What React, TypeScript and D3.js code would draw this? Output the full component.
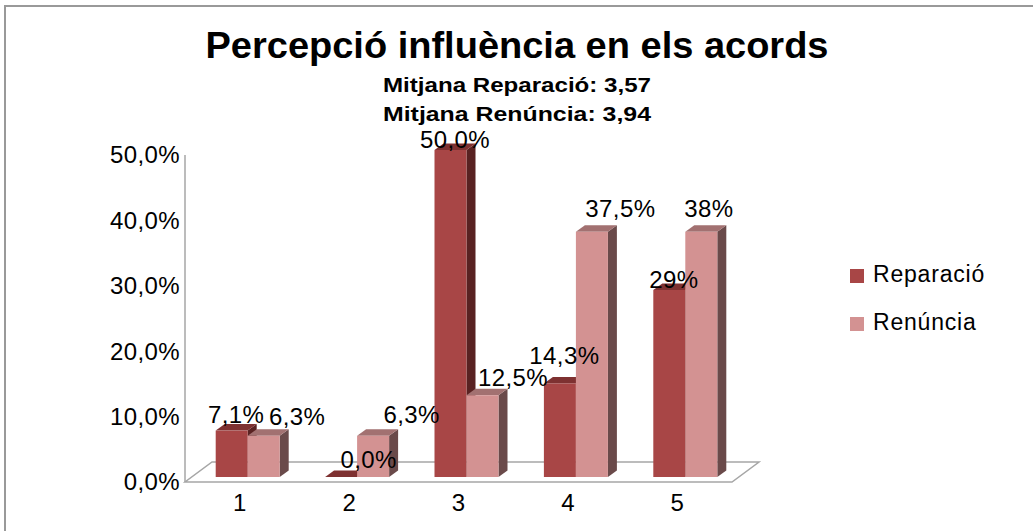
import React from 'react';
import * as d3 from 'd3';

const categories = ['1', '2', '3', '4', '5'];
const reparacio = [0.071, 0, 0.5, 0.143, 0.286];
const renuncia = [0.063, 0.063, 0.125, 0.375, 0.375];
const reparacioLabels = ['7,1%', '0,0%', '50,0%', '14,3%', '29%'];
const renunciaLabels = ['6,3%', '6,3%', '12,5%', '37,5%', '38%'];
const yTicks = [0, 0.1, 0.2, 0.3, 0.4, 0.5];
const seriesNames = ['Reparació', 'Renúncia'];
const title = 'Percepció influència en els acords';
const subtitles = ['Mitjana Reparació: 3,57', 'Mitjana Renúncia: 3,94'];

// label nudges (Excel placed them a bit irregularly)
const repNudge = [[0, 1], [23, 0], [0, 7], [0, -10], [0, 7]];
const renNudge = [[29, -2], [34, -4], [26, 0], [24, -6], [3, -6]];

const font = '"Liberation Sans", Arial, sans-serif';

const colours = {
  rep: { front: '#a84646', top: '#7e3131', side: '#592222' },
  ren: { front: '#d39292', top: '#a27171', side: '#6a4a4a' },
};

const W = 1033;
const H = 531;
const plot = { left: 185, right: 732, top: 155, bottom: 482 };
const floorDepth = { dx: 27, dy: -20 };
const barShift = { dx: 8, dy: -5 };
const barDepth = { dx: 9, dy: -6.5 };
const barW = 32;

const comma = d3.formatLocale({ decimal: ',', thousands: '.', grouping: [3], currency: ['', '€'] });
const pct = comma.format('.1%');

const App = () => {
  const x = d3.scaleBand().domain(categories).range([plot.left, plot.right]);
  const y = d3.scaleLinear().domain([0, 0.5]).range([plot.bottom, plot.top]);

  const bar = (x0: number, v: number, c: { front: string; top: string; side: string }, key: string) => {
    const yb = y(0) + barShift.dy;
    const yt = y(v) + barShift.dy;
    const { dx, dy } = barDepth;
    const top = d3.path();
    top.moveTo(x0, yt);
    top.lineTo(x0 + dx, yt + dy);
    top.lineTo(x0 + barW + dx, yt + dy);
    top.lineTo(x0 + barW, yt);
    top.closePath();
    const side = d3.path();
    side.moveTo(x0 + barW, yt);
    side.lineTo(x0 + barW + dx, yt + dy);
    side.lineTo(x0 + barW + dx, yb + dy);
    side.lineTo(x0 + barW, yb);
    side.closePath();
    return (
      <g key={key}>
        <path d={side.toString()} fill={c.side} />
        <path d={top.toString()} fill={c.top} />
        <rect x={x0} y={yt} width={barW} height={yb - yt} fill={c.front} />
      </g>
    );
  };

  const label = (x0: number, v: number, text: string, n: number[], key: string) => (
    <text
      key={key}
      x={x0 + barW / 2 + barDepth.dx / 2 + n[0]}
      y={y(v) + barShift.dy - 9 + n[1]}
      textAnchor="middle"
      fontSize={24}
      letterSpacing={0.4}
      fill="#000"
    >
      {text}
    </text>
  );

  const floor = d3.path();
  floor.moveTo(plot.left, plot.bottom);
  floor.lineTo(plot.right, plot.bottom);
  floor.lineTo(plot.right + floorDepth.dx, plot.bottom + floorDepth.dy);
  floor.lineTo(plot.left + floorDepth.dx, plot.bottom + floorDepth.dy);
  floor.closePath();

  return (
    <svg
      width={W}
      height={H}
      style={{ position: 'absolute', left: 0, top: 0, background: '#fff' }}
      fontFamily={font}
    >
      <rect x={5} y={6} width={W + 50} height={H + 50} fill="#fff" stroke="#999" strokeWidth={2} />

      <text x={517} y={58} textAnchor="middle" fontSize={36} fontWeight="bold" textLength={623} lengthAdjust="spacingAndGlyphs">
        {title}
      </text>
      {subtitles.map((s, i) => (
        <text key={s} x={517} y={92 + i * 29} textAnchor="middle" fontSize={21} fontWeight="bold" textLength={268} lengthAdjust="spacingAndGlyphs">
          {s}
        </text>
      ))}

      <path d={floor.toString()} fill="#fff" stroke="#a6a6a6" strokeWidth={1.5} />
      <line x1={plot.left} x2={plot.left} y1={plot.top} y2={plot.bottom} stroke="#a6a6a6" strokeWidth={1.5} />

      {yTicks.map(t => (
        <text key={t} x={180} y={y(t)} dy="0.35em" textAnchor="end" fontSize={24} letterSpacing={0.4}>
          {pct(t)}
        </text>
      ))}

      {categories.map(c => (
        <text key={c} x={(x(c) ?? 0) + x.bandwidth() / 2} y={511} textAnchor="middle" fontSize={24}>
          {c}
        </text>
      ))}

      {categories.map((c, i) => {
        const mid = (x(c) ?? 0) + x.bandwidth() / 2 + barShift.dx;
        return (
          <g key={c}>
            {bar(mid - barW, reparacio[i], colours.rep, 'rep')}
            {bar(mid, renuncia[i], colours.ren, 'ren')}
          </g>
        );
      })}

      {categories.map((c, i) => {
        const mid = (x(c) ?? 0) + x.bandwidth() / 2 + barShift.dx;
        return (
          <g key={c}>
            {label(mid - barW, reparacio[i], reparacioLabels[i], repNudge[i], 'rl')}
            {label(mid, renuncia[i], renunciaLabels[i], renNudge[i], 'nl')}
          </g>
        );
      })}

      {seriesNames.map((s, i) => (
        <g key={s} transform={`translate(850, ${269 + i * 48})`}>
          <rect width={14} height={14} fill={i === 0 ? colours.rep.front : colours.ren.front} />
          <text x={23} y={13} fontSize={23} letterSpacing={0.8}>
            {s}
          </text>
        </g>
      ))}
    </svg>
  );
};

export default App;
